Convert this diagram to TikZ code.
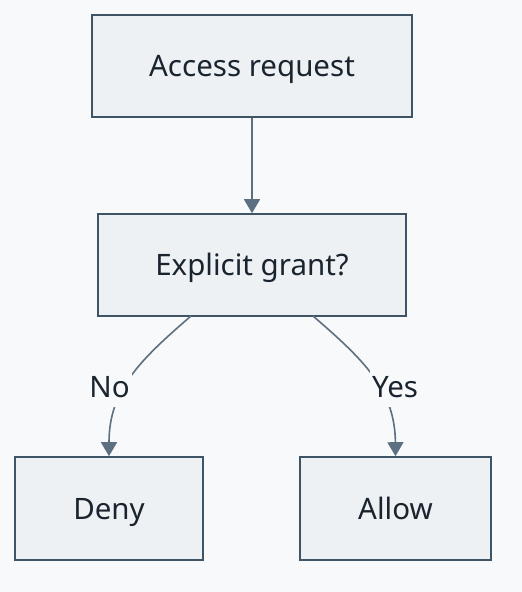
\documentclass[tikz,border=0pt]{standalone}
\usepackage{fontspec}
\setmainfont{Noto Sans}
\usetikzlibrary{arrows.meta}
\definecolor{bgc}{HTML}{F8F9FA}
\definecolor{boxfill}{HTML}{EEF1F4}
\definecolor{boxline}{HTML}{3F5566}
\definecolor{edgec}{HTML}{5D7082}
\definecolor{txt}{HTML}{1A242E}
\begin{document}
\begin{tikzpicture}[x=1pt,y=-1pt,
  box/.style={draw=boxline, line width=1.6pt, fill=boxfill, text=txt, font=\fontsize{29.5}{34}\selectfont, inner sep=0pt, text height=21.5pt, text depth=0pt},
  elabel/.style={fill=bgc, text=txt, font=\fontsize{29.5}{34}\selectfont, inner sep=2pt, text height=24pt, text depth=8pt},
  edge/.style={draw=edgec, line width=1.6pt, -{Triangle[length=14pt,width=16pt]}}]
\fill[bgc] (0,0) rectangle (522,592);
\useasboundingbox (0,0) rectangle (522,592);
\node[box, minimum width=320pt, minimum height=102pt] (req) at (252,66) {Access request};
\node[box, minimum width=308pt, minimum height=102pt] (grant) at (252,265) {Explicit grant?};
\node[box, minimum width=188pt, minimum height=103pt] (deny) at (109,508.5) {Deny};
\node[box, minimum width=191pt, minimum height=103pt] (allow) at (395.5,508.5) {Allow};
\coordinate (gl) at (191,316);
\coordinate (gr) at (313,316);
\draw[edge] (req.south) -- (grant.north);
\draw[edge] (gl) .. controls (140,360) and (109,390) .. (deny.north);
\draw[edge] (gr) .. controls (364,360) and (395,390) .. (allow.north);
\node[elabel] (no) at (109.5,389) {No};
\node[elabel] (yes) at (395,389) {Yes};
\end{tikzpicture}
\end{document}
